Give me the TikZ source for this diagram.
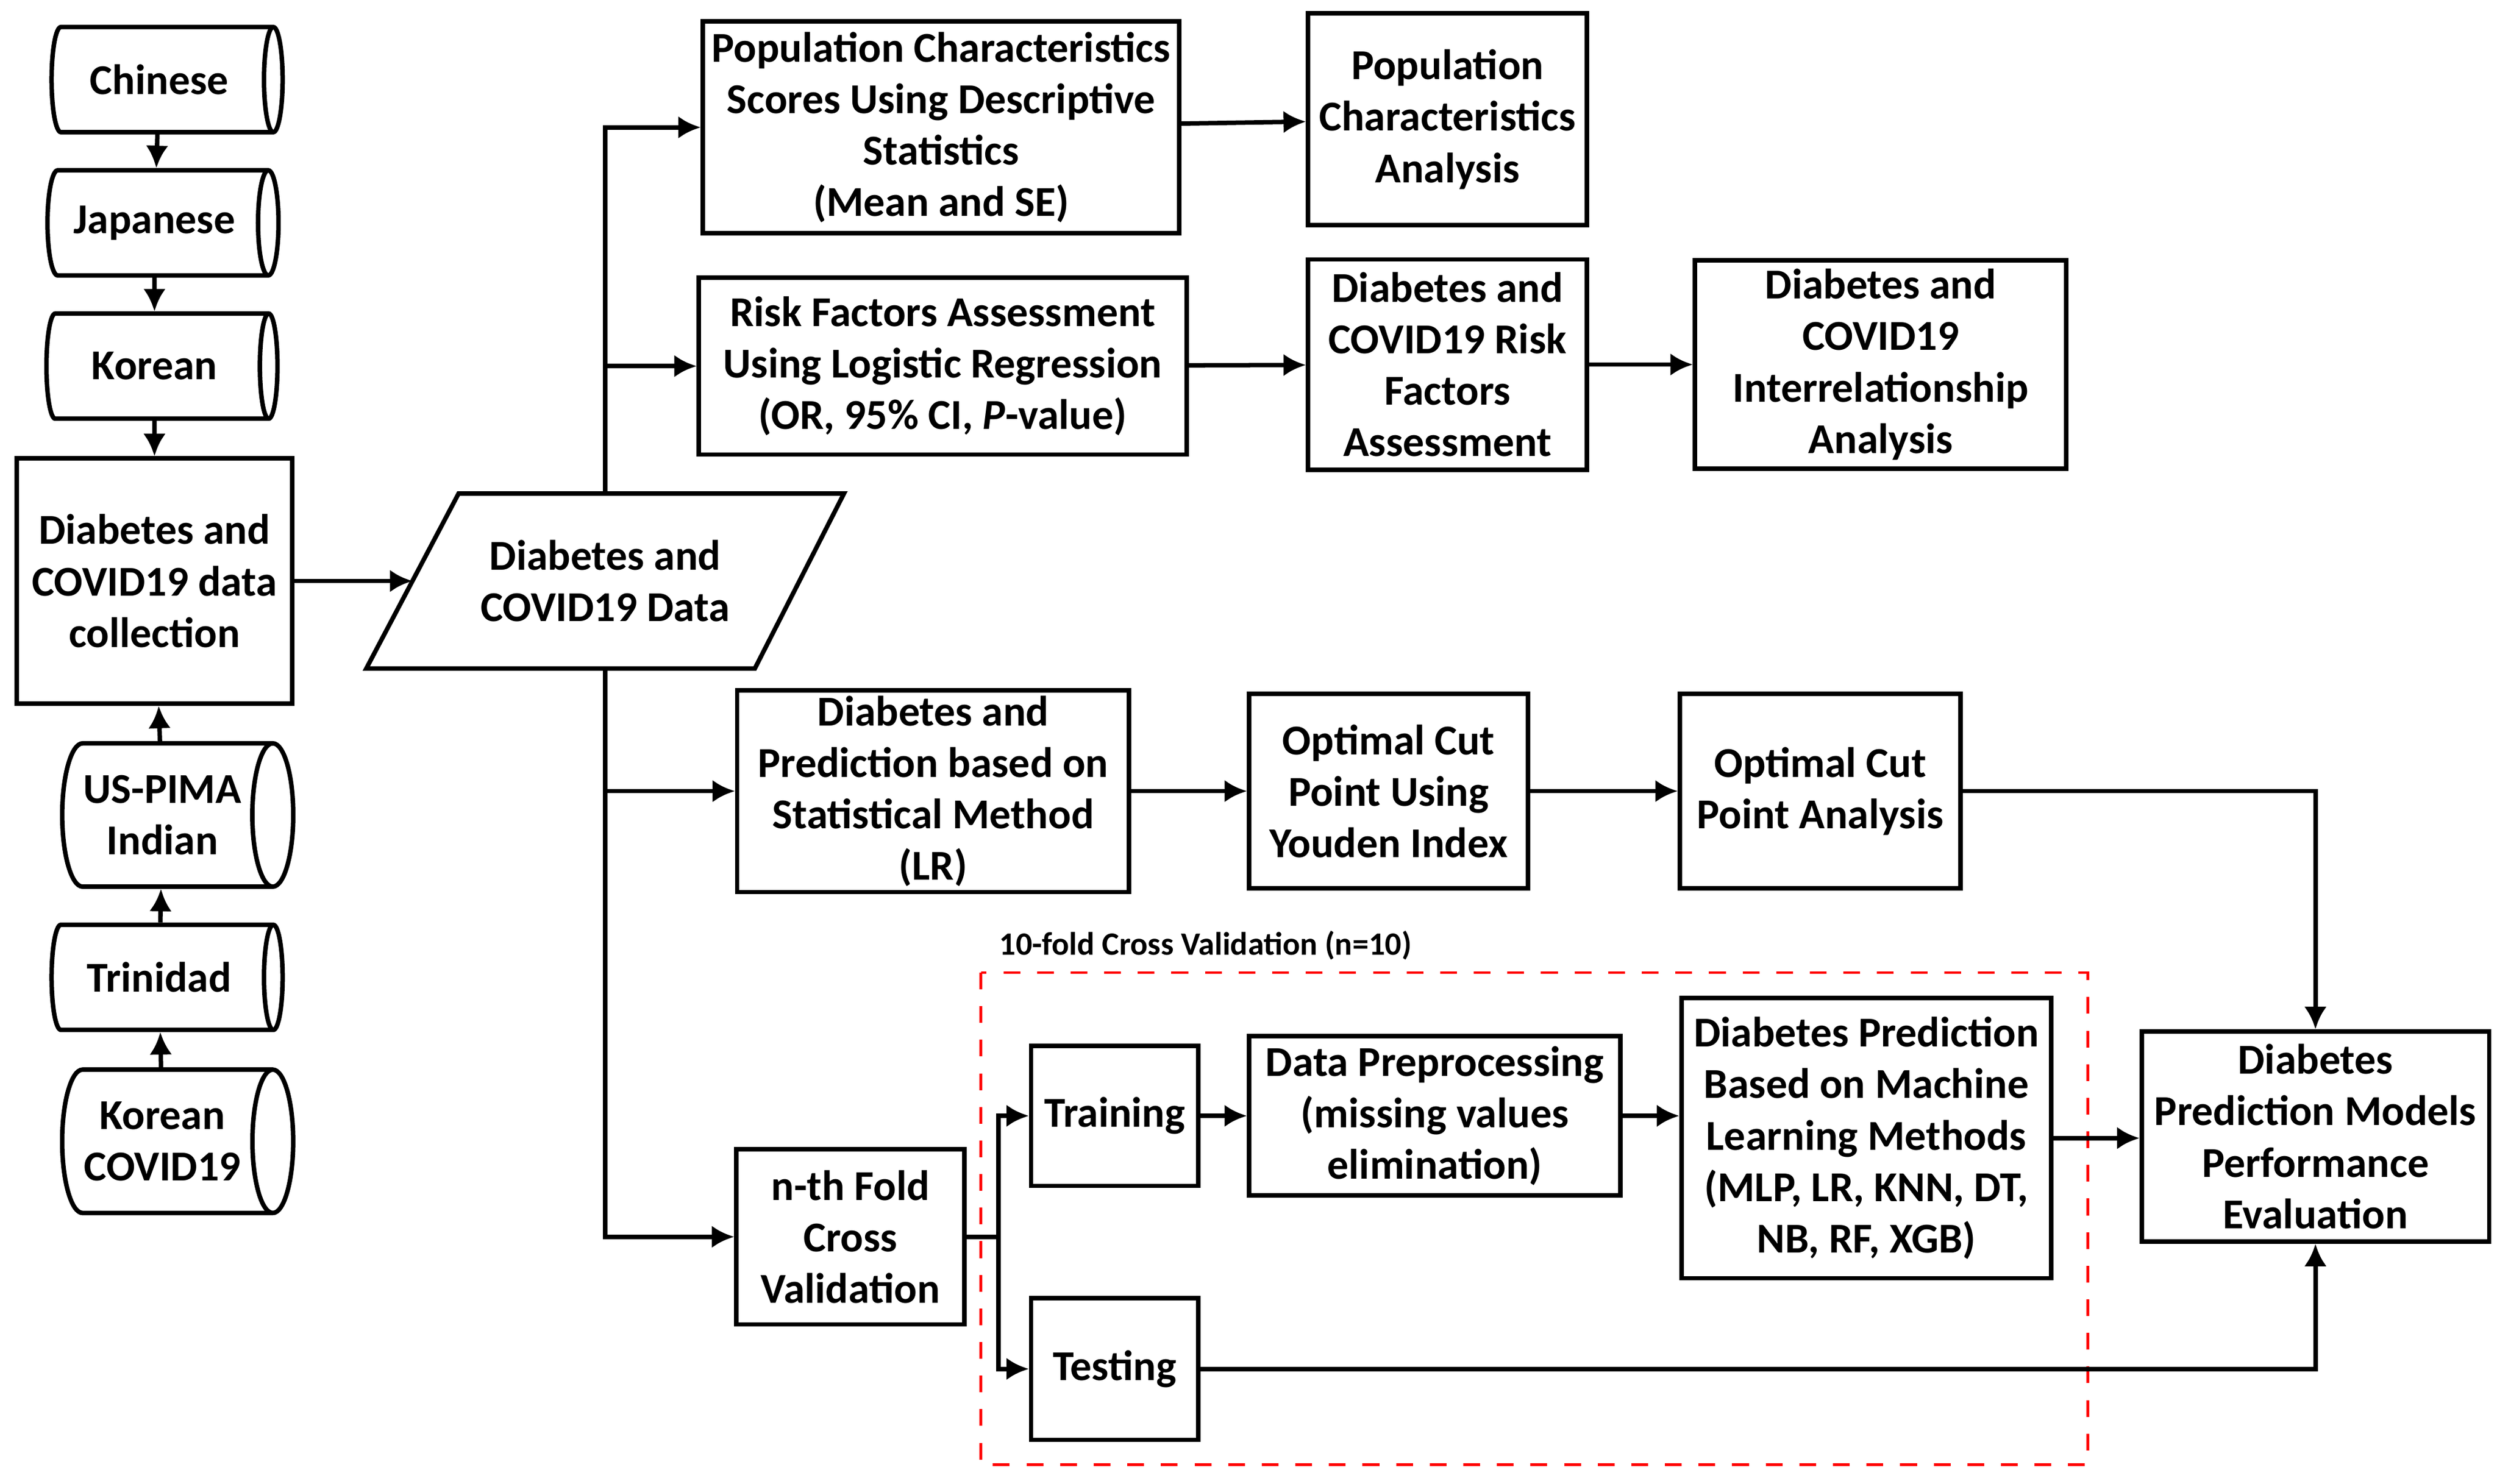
\documentclass[tikz,border=0pt]{standalone}
\usepackage{fontspec}
\setmainfont{Carlito}
\usetikzlibrary{shapes.geometric,arrows.meta}

\begin{document}
\begin{tikzpicture}[x=0.01cm,y=-0.01cm,
    font=\fontsize{7.6}{9.2}\selectfont\bfseries,
    line width=0.8pt,
    >={Latex[length=4pt,width=4pt]},
    box/.style={draw, align=center, inner sep=1pt},
    drum/.style={draw, cylinder, shape aspect=0.45, align=center, inner sep=1pt,
        minimum height=1.45cm, minimum width=0.66cm},
    arr/.style={->}]

\useasboundingbox (0,0) rectangle (1568,932);

% Data sources
\node[drum] (chinese) at (100,50) {Chinese};
\node[drum] (japanese) at (97,140) {Japanese};
\node[drum] (korean) at (97,230) {Korean};
\node[box, minimum width=1.73cm, minimum height=1.54cm] (collect) at (97,365) {Diabetes and\\COVID19 data\\collection};
\node[drum, minimum width=0.9cm] (pima) at (102,512) {US-PIMA\\Indian};
\node[drum] (trinidad) at (100,614) {Trinidad};
\node[drum, minimum width=0.9cm] (kcovid) at (102,717) {Korean\\COVID19};

% Data
\node[align=center] (data) at (380,365) {Diabetes and\\COVID19 Data};
\draw (230,420) -- (288,310) -- (530,310) -- (474,420) -- cycle;
\coordinate (dataleft) at (259,365);

% Statistical branch
\node[box, minimum width=2.99cm, minimum height=1.33cm] (popscore) at (591,80) {Population Characteristics\\Scores Using Descriptive\\Statistics\\(Mean and SE)};
\node[box, minimum width=1.75cm, minimum height=1.33cm] (popana) at (909,75) {Population\\Characteristics\\Analysis};
\node[box, minimum width=3.06cm, minimum height=1.11cm] (risk) at (592,230) {Risk Factors Assessment\\Using Logistic Regression\\(OR, 95\% CI, \textit{P}-value)};
\node[box, minimum width=1.75cm, minimum height=1.32cm] (riskana) at (909,229) {Diabetes and\\COVID19 Risk\\Factors\\Assessment};
\node[box, minimum width=2.33cm, minimum height=1.31cm] (inter) at (1181,229) {Diabetes and\\COVID19\\Interrelationship\\Analysis};

% Prediction LR branch
\node[box, minimum width=2.46cm, minimum height=1.22cm] (predlr) at (586,497) {Diabetes and\\Prediction based on\\Statistical Method\\(LR)};
\node[box, minimum width=1.75cm, minimum height=1.22cm] (youden) at (872,497) {Optimal Cut\\Point Using\\Youden Index};
\node[box, minimum width=1.76cm, minimum height=1.22cm] (cutana) at (1143,497) {Optimal Cut\\Point Analysis};

% Machine learning branch
\node[box, minimum width=1.43cm, minimum height=1.1cm] (nfold) at (534,777) {n-th Fold\\Cross\\Validation};
\node[box, minimum width=1.05cm, minimum height=0.88cm] (train) at (700,701) {Training};
\node[box, minimum width=1.05cm, minimum height=0.89cm] (test) at (700,860) {Testing};
\node[box, minimum width=2.33cm, minimum height=1.0cm] (prep) at (901,701) {Data Preprocessing\\(missing values\\elimination)};
\node[box, minimum width=2.32cm, minimum height=1.76cm] (ml) at (1172,715) {Diabetes Prediction\\Based on Machine\\Learning Methods\\(MLP, LR, KNN, DT,\\NB, RF, XGB)};
\node[box, minimum width=2.18cm, minimum height=1.32cm] (perf) at (1454,714) {Diabetes\\Prediction Models\\Performance\\Evaluation};

\draw[red, dashed, line width=0.5pt] (616,611) rectangle (1311,920);
\node[font=\fontsize{5.8}{7}\selectfont\bfseries] (cvlabel) at (757,594) {10-fold Cross Validation (n=10)};

% Source arrows
\draw[arr] (chinese) -- (japanese);
\draw[arr] (japanese) -- (korean);
\draw[arr] (korean) -- (collect);
\draw[arr] (pima) -- (collect);
\draw[arr] (trinidad) -- (pima);
\draw[arr] (kcovid) -- (trinidad);
\draw[arr] (collect.east) -- (dataleft);

% Branches from data
\coordinate (top) at (380,310);
\coordinate (bot) at (380,420);
\draw[arr] (top) |- (popscore.west);
\draw[arr] (380,230) -- (risk.west);
\draw[arr] (bot) |- (nfold.west);
\draw[arr] (380,497) -- (predlr.west);

\draw[arr] (popscore) -- (popana);
\draw[arr] (risk) -- (riskana);
\draw[arr] (riskana) -- (inter);
\draw[arr] (predlr) -- (youden);
\draw[arr] (youden) -- (cutana);
\draw[arr] (cutana.east) -| (perf.north);

\coordinate (split) at (627,777);
\draw (nfold.east) -- (split);
\draw[arr] (split) |- (train.west);
\draw[arr] (split) |- (test.west);
\draw[arr] (train) -- (prep);
\draw[arr] (prep) -- (prep -| ml.west);
\draw[arr] (ml) -- (ml -| perf.west);
\draw[arr] (test.east) -| (perf.south);

\end{tikzpicture}
\end{document}
